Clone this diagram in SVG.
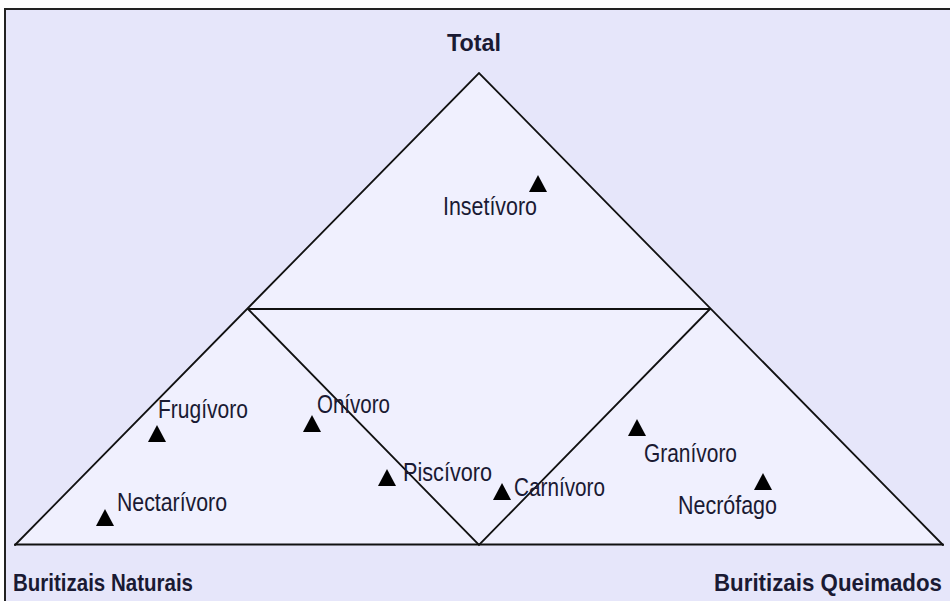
<svg xmlns="http://www.w3.org/2000/svg" width="950" height="601" viewBox="0 0 950 601">
<style>
.lbl{font-family:"Liberation Sans",Arial,sans-serif;font-size:25px;fill:#1a1a33}
.bold{font-family:"Liberation Sans",Arial,sans-serif;font-size:24px;font-weight:bold;fill:#1a1a33}
.ln{stroke:#111;stroke-width:1.8;fill:none;stroke-linecap:round}
.mk{fill:#000}
</style>
<defs>
<path id="tri" d="M0,0 L9,17 L-9,17 Z"/>
</defs>
<rect x="5" y="9" width="960" height="610" fill="#E6E6FA" stroke="#222" stroke-width="2"/>
<polygon points="479,73 943,545 15,545" fill="#F0F0FE"/>
<g id="connectors">
<polyline class="ln" points="15,545 479,73 943,545"/>
<line class="ln" x1="15" y1="544.5" x2="943" y2="544.5" stroke-width="2.8"/>
<line class="ln" x1="248" y1="309" x2="710" y2="309" stroke-width="2.4"/>
<polyline class="ln" points="248,309 479,545 710,309"/>
</g>
<g id="axis-total"><text class="bold" x="447" y="51" textLength="54" lengthAdjust="spacingAndGlyphs">Total</text></g>
<g id="axis-naturais"><text class="bold" x="13" y="591" textLength="180" lengthAdjust="spacingAndGlyphs">Buritizais Naturais</text></g>
<g id="axis-queimados"><text class="bold" x="714" y="591" textLength="228" lengthAdjust="spacingAndGlyphs">Buritizais Queimados</text></g>
<g id="insetivoro"><use href="#tri" class="mk" x="538" y="175"/><text class="lbl" x="443" y="215" textLength="94" lengthAdjust="spacingAndGlyphs">Insetívoro</text></g>
<g id="frugivoro"><use href="#tri" class="mk" x="157" y="425"/><text class="lbl" x="158" y="418" textLength="90" lengthAdjust="spacingAndGlyphs">Frugívoro</text></g>
<g id="onivoro"><use href="#tri" class="mk" x="312" y="415"/><text class="lbl" x="317" y="413" textLength="73" lengthAdjust="spacingAndGlyphs">Onívoro</text></g>
<g id="nectarivoro"><use href="#tri" class="mk" x="105" y="509"/><text class="lbl" x="117" y="511" textLength="110" lengthAdjust="spacingAndGlyphs">Nectarívoro</text></g>
<g id="piscivoro"><use href="#tri" class="mk" x="387" y="469"/><text class="lbl" x="403" y="481" textLength="89" lengthAdjust="spacingAndGlyphs">Piscívoro</text></g>
<g id="carnivoro"><use href="#tri" class="mk" x="502" y="483"/><text class="lbl" x="514" y="496" textLength="91" lengthAdjust="spacingAndGlyphs">Carnívoro</text></g>
<g id="granivoro"><use href="#tri" class="mk" x="637" y="419"/><text class="lbl" x="644" y="462" textLength="93" lengthAdjust="spacingAndGlyphs">Granívoro</text></g>
<g id="necrofago"><use href="#tri" class="mk" x="763" y="473"/><text class="lbl" x="678" y="514" textLength="99" lengthAdjust="spacingAndGlyphs">Necrófago</text></g>
</svg>
